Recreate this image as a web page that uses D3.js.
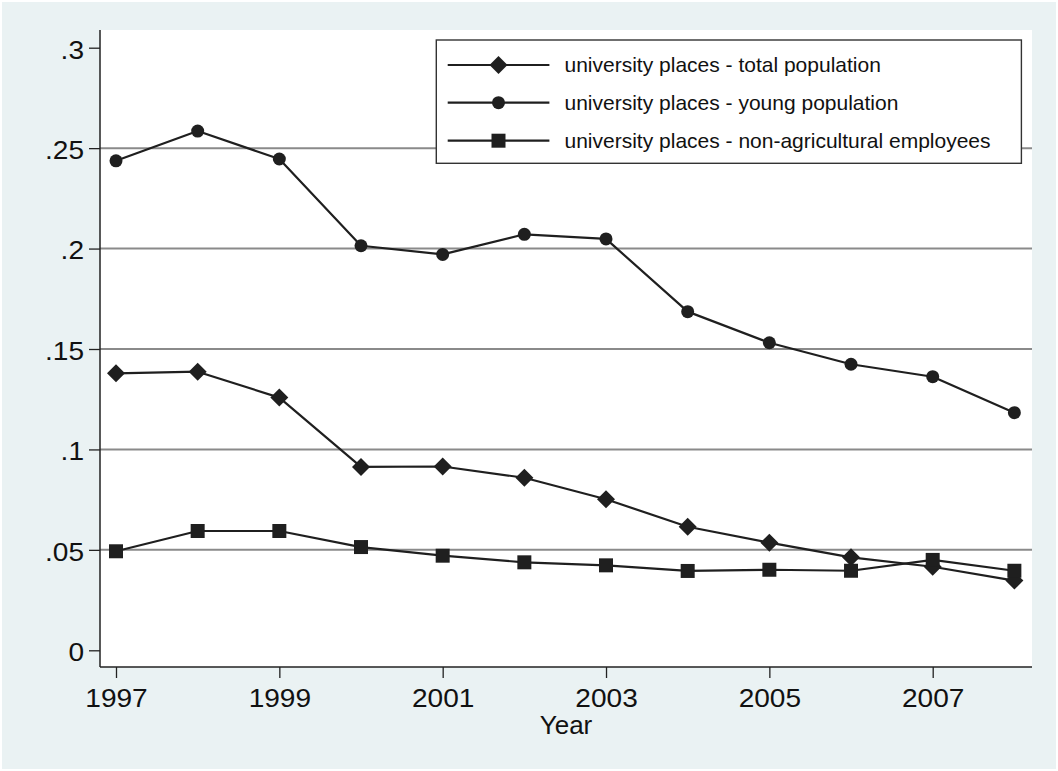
<!DOCTYPE html>
<html>
<head>
<meta charset="utf-8">
<script src="https://cdn.jsdelivr.net/npm/d3@7"></script>
<style>
  html, body { margin: 0; padding: 0; background: #ffffff; }
  svg { display: block; }
  text { font-family: "Liberation Sans", Arial, Helvetica, sans-serif; fill: #111; }
</style>
</head>
<body>
<svg id="chart" width="1058" height="771"></svg>
<script>
// ---- data ----
const years = [1997, 1998, 1999, 2000, 2001, 2002, 2003, 2004, 2005, 2006, 2007, 2008];
const totalPopulation = [0.1379, 0.1387, 0.1258, 0.0913, 0.0915, 0.0859, 0.0752, 0.0615, 0.0536, 0.0463, 0.0416, 0.0347];
const youngPopulation = [0.2437, 0.2585, 0.2446, 0.2014, 0.1971, 0.2071, 0.2048, 0.1686, 0.1531, 0.1424, 0.1362, 0.1183];
const nonAgEmployees = [0.0493, 0.0594, 0.0594, 0.0514, 0.0471, 0.0438, 0.0423, 0.0395, 0.0401, 0.0396, 0.0450, 0.0396];
const xTicks = [1997, 1999, 2001, 2003, 2005, 2007];
const yTicks = [0, 0.05, 0.1, 0.15, 0.2, 0.25, 0.3];
const yTickLabels = ["0", ".05", ".1", ".15", ".2", ".25", ".3"];
const gridValues = [0.05, 0.1, 0.15, 0.2, 0.25];
const seriesNames = [
  "university places - total population",
  "university places - young population",
  "university places - non-agricultural employees"
];
const seriesSymbols = ["diamond", "circle", "square"];
const xTitle = "Year";

// ---- layout ----
const W = 1058, H = 771;
const plot = { left: 100, right: 1032, top: 30, bottom: 667 };
const svg = d3.select("#chart");

svg.append("rect").attr("x", 2).attr("y", 2).attr("width", W - 4).attr("height", H - 4)
  .attr("fill", "#EAF2F3");
svg.append("rect").attr("x", plot.left).attr("y", plot.top)
  .attr("width", plot.right - plot.left).attr("height", plot.bottom - plot.top)
  .attr("fill", "#ffffff");

const x = d3.scaleLinear().domain([1997, 2007]).range([116, 932.7]);
const y = d3.scaleLinear().domain([0, 0.3]).range([650.3, 47.7]);

// gridlines
svg.append("g").selectAll("line").data(gridValues).join("line")
  .attr("x1", plot.left).attr("x2", plot.right)
  .attr("y1", d => y(d)).attr("y2", d => y(d))
  .attr("stroke", "#8a8a8a").attr("stroke-width", 2);

const stretch = 1.08;

// y axis
const yAxis = d3.axisLeft(y).tickValues(yTicks)
  .tickFormat((d, i) => yTickLabels[i]).tickSize(11).tickPadding(5);
const gy = svg.append("g").attr("transform", `translate(${plot.left},0)`).call(yAxis);
gy.select(".domain").remove();
gy.selectAll(".tick line").attr("stroke", "#222").attr("stroke-width", 1.3);
gy.selectAll(".tick text").attr("font-size", 26).attr("fill", "#111")
  .attr("font-family", '"Liberation Sans", Arial, sans-serif')
  .attr("x", 0).attr("dy", "0.4em")
  .attr("transform", `translate(-16,0) scale(${stretch},1)`);
svg.append("line").attr("x1", plot.left).attr("x2", plot.left)
  .attr("y1", plot.top).attr("y2", plot.bottom)
  .attr("stroke", "#222").attr("stroke-width", 1.5);

// x axis
const xAxis = d3.axisBottom(x).tickValues(xTicks).tickFormat(d3.format("d"))
  .tickSize(11).tickPadding(11);
const gx = svg.append("g").attr("transform", `translate(0,${plot.bottom})`).call(xAxis);
gx.select(".domain").remove();
gx.selectAll(".tick line").attr("stroke", "#222").attr("stroke-width", 1.3);
gx.selectAll(".tick text").attr("font-size", 26).attr("fill", "#111")
  .attr("font-family", '"Liberation Sans", Arial, sans-serif')
  .attr("transform", `scale(${stretch},1)`);
svg.append("line").attr("x1", plot.left).attr("x2", plot.right)
  .attr("y1", plot.bottom).attr("y2", plot.bottom)
  .attr("stroke", "#222").attr("stroke-width", 1.5);

svg.append("text").attr("x", (plot.left + plot.right) / 2).attr("y", 734)
  .attr("text-anchor", "middle").attr("font-size", 26).text(xTitle);

// symbols
const symbolFor = {
  diamond: d3.symbol().type(d3.symbolSquare).size(18 * 18 / 2),
  circle: d3.symbol().type(d3.symbolCircle).size(Math.PI * 6.5 * 6.5),
  square: d3.symbol().type(d3.symbolSquare).size(14 * 14)
};
const rotateFor = { diamond: 45, circle: 0, square: 0 };

const allSeries = [totalPopulation, youngPopulation, nonAgEmployees];
const line = d3.line().x((d, i) => x(years[i])).y(d => y(d));
const ink = "#1f1f1f";

allSeries.forEach((vals, s) => {
  const g = svg.append("g");
  g.append("path").datum(vals).attr("d", line)
    .attr("fill", "none").attr("stroke", ink).attr("stroke-width", 2.2)
    .attr("stroke-linejoin", "round");
  const sym = seriesSymbols[s];
  g.selectAll("path.pt").data(vals).join("path").attr("class", "pt")
    .attr("d", symbolFor[sym]())
    .attr("transform", (d, i) => `translate(${x(years[i])},${y(d)}) rotate(${rotateFor[sym]})`)
    .attr("fill", ink);
});

// legend
const lg = svg.append("g");
lg.append("rect").attr("x", 436.3).attr("y", 40).attr("width", 1021.4 - 436.3).attr("height", 123.3)
  .attr("fill", "#ffffff").attr("stroke", "#333").attr("stroke-width", 1.4);
const rowY = [65, 102.7, 140.7];
seriesNames.forEach((name, s) => {
  const yy = rowY[s];
  lg.append("line").attr("x1", 447.7).attr("x2", 549.4).attr("y1", yy).attr("y2", yy)
    .attr("stroke", ink).attr("stroke-width", 2.2);
  const sym = seriesSymbols[s];
  lg.append("path").attr("d", symbolFor[sym]())
    .attr("transform", `translate(498.5,${yy}) rotate(${rotateFor[sym]})`).attr("fill", ink);
  lg.append("text").attr("x", 564.5).attr("y", yy).attr("dy", "0.35em")
    .attr("font-size", 21).text(name);
});
</script>
</body>
</html>
